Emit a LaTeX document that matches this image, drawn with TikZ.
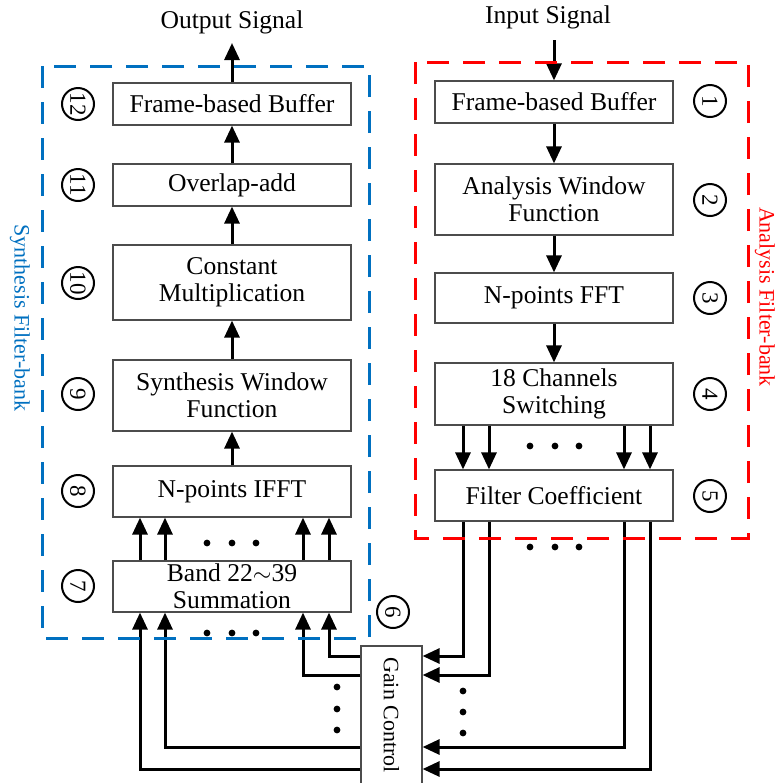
\documentclass[tikz,border=0pt]{standalone}
\usepackage{fontspec}
\setmainfont{Liberation Serif}
\usepackage{graphicx}
\usetikzlibrary{arrows.meta}
\definecolor{synblue}{RGB}{0,112,192}
\definecolor{anared}{RGB}{255,0,0}

\begin{document}
\begin{tikzpicture}[
    x=0.5pt,y=-0.5pt,
    box/.style={rectangle,draw=black!70,line width=0.6pt,minimum width=119pt,
                align=center,inner sep=0pt,font=\fontsize{12.8}{13.5}\selectfont},
    num/.style={circle,draw,line width=1pt,minimum size=16pt,inner sep=0pt,
                rotate=-90,font=\fontsize{11.5}{11.5}\selectfont},
    arr/.style={-{Triangle[length=8.5pt,width=7.5pt]},line width=1.5pt},
    bank/.style={line width=1.5pt,dash pattern=on 11pt off 7pt},
    side/.style={rotate=-90,font=\fontsize{11}{11}\selectfont},
    sig/.style={font=\fontsize{12.8}{13.5}\selectfont}
  ]
  \useasboundingbox (0,0) rectangle (775,783);

  % analysis side
  \node[sig] (in) at (548,17) {Input Signal};
  \coordinate (intail) at (554,40);
  \node[box,minimum height=21pt] (b1) at (554,102) {Frame-based Buffer};
  \node[box,minimum height=35.5pt] (b2) at (554,199.5) {Analysis Window\\Function};
  \node[box,minimum height=25pt] (b3) at (554,298) {N-points FFT};
  \node[box,minimum height=31pt] (b4) at (554,394) {18 Channels\\Switching};
  \node[box,minimum height=25.5pt] (b5) at (554,495.5) {Filter Coefficient};

  % synthesis side
  \node[sig] (out) at (232,22) {Output Signal};
  \coordinate (outtip) at (232,43);
  \node[box,minimum height=21pt] (b12) at (232,104) {Frame-based Buffer};
  \node[box,minimum height=21pt] (b11) at (232,185) {Overlap-add};
  \node[box,minimum height=37.5pt] (b10) at (232,282.5) {Constant\\Multiplication};
  \node[box,minimum height=35.5pt] (b9) at (232,395.5) {Synthesis Window\\Function};
  \node[box,minimum height=25.5pt] (b8) at (232,491.5) {N-points IFFT};
  \node[box,minimum height=25.5pt] (b7) at (232,586.5) {Band 22$\sim$39\\Summation};

  \node[box,minimum width=30.5pt,minimum height=69pt,
        font=\fontsize{11}{11}\selectfont] (gain) at (391.5,715) {\rotatebox{-90}{Gain Control}};

  % step numbers
  \foreach \n/\y in {1/101,2/200,3/298,4/394,5/496}
    \node[num] (n\n) at (710,\y) {\n};
  \foreach \n/\y in {7/586,8/491,9/394,10/283,11/185,12/104}
    \node[num] (n\n) at (78,\y) {\n};
  \node[num] (n6) at (393,612) {6};

  \node[side,text=synblue] (synlab) at (20,318) {Synthesis Filter-bank};
  \node[side,text=anared] (analab) at (765,297) {Analysis Filter-bank};

  % connectors
  \draw[arr] (intail) -- (b1.north);
  \foreach \a/\b in {b1/b2,b2/b3,b3/b4}
    \draw[arr] (\a) -- (\b);
  \foreach \a/\b in {b8/b9,b9/b10,b10/b11,b11/b12}
    \draw[arr] (\a) -- (\b);
  \draw[arr] (b12.north) -- (outtip);

  \foreach \x in {463,489,624,650}
    \draw[arr] (b4.south -| \x,0) -- (b5.north -| \x,0);
  \foreach \x in {140,165,303,329}
    \draw[arr] (b7.north -| \x,0) -- (b8.south -| \x,0);

  \foreach \x/\y in {463/656,489/675,624/747,650/769}
    \draw[arr] (b5.south -| \x,0) |- (gain.east |- 0,\y);
  \foreach \x/\y in {329/656,303/675,165/747,140/769}
    \draw[arr] (gain.west |- 0,\y) -| (b7.south -| \x,0);

  % dots
  \foreach \y in {446,547}
    \foreach \x in {530,555,579}
      \fill (\x,\y) circle (1.7pt);
  \foreach \y in {543,633}
    \foreach \x in {207,232,256}
      \fill (\x,\y) circle (1.7pt);
  \foreach \y in {691,712,733}
    \fill (463,\y) circle (1.7pt);
  \foreach \y in {687,709,730}
    \fill (337,\y) circle (1.7pt);

  % filter-bank frames
  \draw[bank,synblue] (42,66) rectangle (369,638);
  \draw[bank,anared] (415,62) rectangle (748,538);
\end{tikzpicture}
\end{document}
